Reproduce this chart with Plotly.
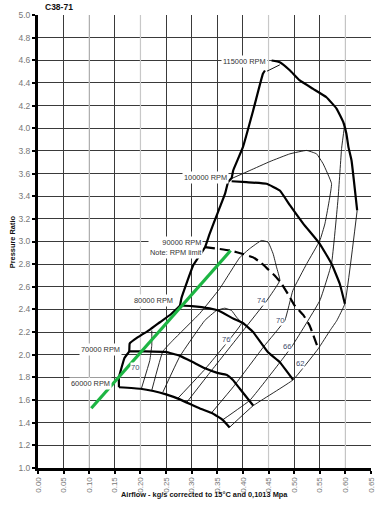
import plotly.graph_objects as go

# ---------------- data ----------------
x_ticks = [0.00, 0.05, 0.10, 0.15, 0.20, 0.25, 0.30, 0.35, 0.40, 0.45, 0.50, 0.55, 0.60, 0.65]
y_ticks = [1.0, 1.2, 1.4, 1.6, 1.8, 2.0, 2.2, 2.4, 2.6, 2.8, 3.0, 3.2, 3.4, 3.6, 3.8, 4.0, 4.2, 4.4, 4.6, 4.8, 5.0]
light_grid_x = [0.10, 0.20, 0.45, 0.60]

surge_x = [0.158, 0.158, 0.169, 0.178, 0.179, 0.195, 0.218, 0.238, 0.260, 0.277, 0.280, 0.303, 0.326, 0.335, 0.345, 0.355, 0.365, 0.371, 0.378, 0.381, 0.400, 0.420, 0.439, 0.443]
surge_y = [1.713, 1.800, 1.973, 2.030, 2.100, 2.155, 2.220, 2.287, 2.360, 2.435, 2.500, 2.790, 2.950, 3.068, 3.186, 3.303, 3.420, 3.524, 3.560, 3.627, 3.833, 4.157, 4.481, 4.510]

n60_x = [0.158, 0.200, 0.225, 0.250, 0.277, 0.316, 0.341, 0.361, 0.374]
n60_y = [1.713, 1.700, 1.680, 1.650, 1.606, 1.525, 1.482, 1.423, 1.358]

n70_x = [0.178, 0.210, 0.249, 0.277, 0.300, 0.326, 0.350, 0.368, 0.380, 0.394, 0.420]
n70_y = [2.030, 2.030, 2.025, 1.990, 1.940, 1.880, 1.840, 1.823, 1.780, 1.700, 1.552]

n80_x = [0.277, 0.300, 0.335, 0.352, 0.381, 0.400, 0.420, 0.449, 0.472, 0.498]
n80_y = [2.435, 2.430, 2.410, 2.390, 2.320, 2.280, 2.200, 2.022, 1.934, 1.779]

n90_x = [0.326, 0.345, 0.376, 0.400, 0.420, 0.436, 0.450, 0.462, 0.475, 0.490, 0.500, 0.518, 0.530, 0.547]
n90_y = [2.950, 2.940, 2.920, 2.890, 2.860, 2.810, 2.750, 2.700, 2.630, 2.520, 2.440, 2.350, 2.260, 2.055]

n100_x = [0.378, 0.407, 0.446, 0.472, 0.492, 0.518, 0.550, 0.573, 0.589, 0.599]
n100_y = [3.532, 3.524, 3.510, 3.450, 3.318, 3.156, 2.980, 2.803, 2.627, 2.450]

n115_x = [0.456, 0.472, 0.492, 0.511, 0.537, 0.563, 0.583, 0.596, 0.602, 0.606, 0.612, 0.623]
n115_y = [4.598, 4.583, 4.510, 4.422, 4.348, 4.274, 4.172, 4.053, 3.951, 3.833, 3.715, 3.274]

lead115_x = [0.447, 0.472]
lead115_y = [4.504, 4.560]

eff62_x = [0.374, 0.420, 0.498, 0.547, 0.570, 0.583, 0.599, 0.623]
eff62_y = [1.360, 1.550, 1.779, 2.053, 2.214, 2.300, 2.450, 3.274]

eff66_x = [0.599, 0.5926, 0.5859, 0.573, 0.5502, 0.4955, 0.4721, 0.4135, 0.3588]
eff66_y = [4.042, 3.821, 3.389, 2.806, 2.479, 2.073, 1.932, 1.598, 1.420]

eff70r_x = [0.378, 0.4135, 0.4526, 0.4916, 0.5242, 0.5437, 0.5566, 0.573, 0.560, 0.5502, 0.5248, 0.4975, 0.4818, 0.4408, 0.3822, 0.3393]
eff70r_y = [3.556, 3.627, 3.706, 3.774, 3.804, 3.774, 3.686, 3.510, 3.156, 3.009, 2.806, 2.568, 2.303, 2.073, 1.722, 1.490]

eff70l_x = [0.202, 0.2182, 0.2221, 0.2221]
eff70l_y = [1.704, 1.950, 2.082, 2.214]

eff74_x = [0.2221, 0.2436, 0.263, 0.3158, 0.3549, 0.3939, 0.4135, 0.4362, 0.4492, 0.459, 0.4656, 0.4721, 0.4467, 0.4037, 0.3373, 0.2904]
eff74_y = [1.686, 2.029, 2.126, 2.365, 2.585, 2.859, 2.938, 3.009, 2.994, 2.891, 2.774, 2.656, 2.479, 2.232, 1.853, 1.580]

eff76_x = [0.2436, 0.2768, 0.3256, 0.3485, 0.3646, 0.3777, 0.3875, 0.3973, 0.3256, 0.2729]
eff76_y = [1.668, 1.985, 2.303, 2.391, 2.411, 2.391, 2.332, 2.279, 1.871, 1.615]

green_x = [0.104, 0.376]
green_y = [1.528, 2.920]

speed_labels = ["115000 RPM", "100000 RPM", "90000 RPM<br>Note: RPM limit", "80000 RPM", "70000 RPM", "60000 RPM"]
speed_label_x = [0.449, 0.373, 0.322, 0.267, 0.164, 0.144]
speed_label_y = [4.589, 3.562, 2.947, 2.479, 2.044, 1.744]

eff_labels = ["74", "70", "66", "62", "76", "70"]
eff_label_x = [0.436, 0.472, 0.486, 0.511, 0.367, 0.189]
eff_label_y = [2.480, 2.300, 2.070, 1.920, 2.132, 1.885]

FONT = "Liberation Sans, Arial, sans-serif"

# ---------------- figure ----------------
fig = go.Figure()

def line_trace(x, y, w, color="#111", dash=None):
    fig.add_trace(go.Scatter(x=x, y=y, mode="lines",
                             line=dict(color=color, width=w, dash=dash, shape="spline", smoothing=0.3),
                             hoverinfo="skip", showlegend=False))

for ex, ey in [(eff62_x, eff62_y), (eff66_x, eff66_y), (eff70r_x, eff70r_y), (eff70l_x, eff70l_y),
               (eff74_x, eff74_y), (eff76_x, eff76_y)]:
    line_trace(ex, ey, 0.9)
line_trace(lead115_x, lead115_y, 1.0)

for sx, sy in [(surge_x, surge_y), (n60_x, n60_y), (n70_x, n70_y), (n80_x, n80_y), (n100_x, n100_y), (n115_x, n115_y)]:
    line_trace(sx, sy, 2.2, "black")
line_trace(n90_x, n90_y, 2.2, "black", "10px,5px")

fig.add_trace(go.Scatter(x=green_x, y=green_y, mode="lines", line=dict(color="#1db543", width=3.2),
                         hoverinfo="skip", showlegend=False))

for t, x, y in zip(speed_labels, speed_label_x, speed_label_y):
    fig.add_annotation(x=x, y=y, text=t, showarrow=False, xanchor="right", yanchor="middle", align="right",
                       font=dict(family=FONT, size=7.4, color="#333"), bgcolor="white", borderpad=1)
for t, x, y in zip(eff_labels, eff_label_x, eff_label_y):
    fig.add_annotation(x=x, y=y, text=t, showarrow=False, xanchor="center", yanchor="middle",
                       font=dict(family=FONT, size=7.6, color="#3c4a6a"), bgcolor="white", borderpad=0)

# lighter vertical grid lines on top of the normal grid
shapes = []
for xv in light_grid_x:
    shapes.append(dict(type="line", xref="x", yref="y", x0=xv, x1=xv, y0=y_ticks[0], y1=y_ticks[-1],
                       line=dict(color="#c8c8c8", width=1.2), layer="between"))
fig.update_layout(shapes=shapes)

fig.add_annotation(xref="paper", yref="paper", x=0.014, y=1.017, text="<b>C38-71</b>", showarrow=False,
                   xanchor="left", yanchor="middle", font=dict(family=FONT, size=8.5, color="#111"))
fig.add_annotation(xref="paper", yref="paper", x=0.5, y=-0.058,
                   text="<b>Airflow - kg/s corrected to 15°C and 0,1013 Mpa</b>", showarrow=False,
                   xanchor="center", yanchor="middle", font=dict(family=FONT, size=7.4, color="#111"))
fig.add_annotation(xref="paper", yref="paper", x=-0.076, y=0.5, text="<b>Pressure Ratio</b>", textangle=-90,
                   showarrow=False, xanchor="center", yanchor="middle", font=dict(family=FONT, size=7.4, color="#111"))

fig.update_xaxes(range=[0, 0.65], tickvals=x_ticks, tickformat=".2f", tickangle=-90, automargin=False,
                 showgrid=True, gridcolor="#3a3a3a", gridwidth=1, zeroline=False,
                 showline=True, linecolor="black", linewidth=3, ticks="outside", ticklen=3, tickwidth=2, tickcolor="black",
                 tickfont=dict(family=FONT, size=8, color="#777"))
fig.update_yaxes(range=[1, 5], tickvals=y_ticks, tickformat=".1f", automargin=False,
                 showgrid=True, gridcolor="#3a3a3a", gridwidth=1, zeroline=False,
                 showline=True, linecolor="black", linewidth=3, ticks="outside", ticklen=3, tickwidth=2, tickcolor="black",
                 tickfont=dict(family=FONT, size=8.5, color="#777"))

fig.update_layout(width=386, height=512, margin=dict(l=38.3, r=15.3, t=14.5, b=44.3),
                  plot_bgcolor="rgba(0,0,0,0)", paper_bgcolor="white", showlegend=False)

# remove the browser's default 8 px body margin so the figure fills the window exactly
fig.write_html("out.html", config={"displayModeBar": False},
               post_script="document.body.style.margin='0px';")
